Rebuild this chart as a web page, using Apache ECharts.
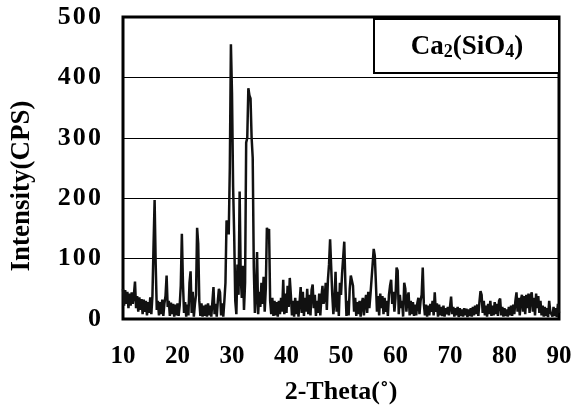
<!DOCTYPE html>
<html>
<head>
<meta charset="utf-8">
<script src="https://cdn.jsdelivr.net/npm/echarts@6/dist/echarts.min.js"></script>
<style>
  html, body { margin: 0; padding: 0; background: #fff; }
  #chart { width: 576px; height: 408px; }
</style>
</head>
<body>
<div id="chart"></div>
<script>
// 2θ sampling: start at 10°, one value every 0.2°
const startAngle = 10
const stepAngle = 0.2

// intensity (CPS)
const int10to20 = [50, 22, 48, 25, 45, 18, 42, 22, 44, 25, 40, 62, 18, 38, 12, 36, 15, 33, 8, 32,
  12, 30, 6, 28, 10, 36, 8, 38, 120, 197, 90, 15, 30, 6, 28, 8, 32, 5, 26, 38,
  72, 20, 30, 5, 27, 8, 25, 4, 24, 6]
const int20to30 = [26, 5, 22, 55, 141, 60, 10, 28, 4, 24, 6, 60, 79, 10, 45, 4, 25, 40, 151, 125,
  30, 5, 26, 4, 22, 5, 24, 4, 26, 6, 22, 4, 28, 53, 8, 25, 4, 30, 50, 44,
  6, 26, 4, 30, 60, 163, 158, 140, 250, 455]
const int30to40 = [374, 220, 140, 30, 8, 90, 40, 211, 70, 35, 88, 15, 60, 292, 300, 382, 370, 365, 300, 267,
  85, 10, 40, 111, 8, 45, 20, 60, 25, 70, 12, 50, 151, 145, 149, 30, 8, 35, 5, 30,
  6, 28, 4, 30, 8, 35, 12, 65, 8, 42]
const int40to50 = [10, 55, 20, 68, 40, 6, 30, 4, 35, 8, 30, 4, 28, 53, 10, 45, 5, 35, 12, 50,
  8, 40, 6, 48, 57, 18, 40, 5, 30, 10, 42, 6, 35, 55, 25, 35, 60, 15, 65, 90,
  132, 134, 40, 8, 30, 78, 12, 45, 5, 60]
const int50to60 = [40, 75, 72, 128, 60, 5, 30, 6, 50, 72, 75, 55, 12, 35, 5, 28, 8, 30, 4, 25,
  35, 6, 28, 40, 10, 45, 18, 40, 65, 90, 116, 105, 60, 12, 38, 6, 42, 18, 38, 8,
  35, 12, 30, 5, 40, 55, 65, 25, 45, 12]
const int60to70 = [35, 85, 80, 8, 40, 18, 30, 4, 60, 50, 12, 35, 44, 6, 30, 8, 28, 5, 24, 6,
  26, 35, 8, 30, 40, 85, 25, 6, 24, 4, 22, 6, 25, 12, 30, 6, 44, 12, 26, 4,
  24, 6, 20, 5, 22, 4, 18, 8, 20, 6]
const int70to80 = [20, 37, 8, 20, 4, 18, 6, 20, 3, 18, 5, 16, 4, 18, 6, 17, 3, 16, 5, 18,
  4, 20, 6, 22, 8, 24, 5, 28, 46, 40, 10, 30, 6, 22, 4, 25, 8, 30, 5, 22,
  6, 28, 8, 25, 5, 30, 34, 6, 20, 4]
const int80to90 = [18, 5, 16, 4, 20, 6, 22, 5, 24, 8, 30, 44, 12, 35, 6, 32, 40, 12, 38, 8,
  40, 18, 42, 10, 38, 44, 12, 35, 6, 42, 18, 38, 10, 30, 6, 22, 4, 20, 5, 18,
  3, 30, 12, 15, 4, 20, 5, 18, 3, 25, 10]

const intensity = [].concat(int10to20, int20to30, int30to40, int40to50,
  int50to60, int60to70, int70to80, int80to90)

const xTicks = [10, 20, 30, 40, 50, 60, 70, 80, 90]
const yTicks = [0, 100, 200, 300, 400, 500]

const seriesData = intensity.map((v, i) => [+(startAngle + i * stepAngle).toFixed(1), v])

const serif = '"Liberation Serif", "Times New Roman", serif'

const chart = echarts.init(document.getElementById('chart'), null, { renderer: 'canvas' })

const option = {
  backgroundColor: '#fff',
  animation: false,
  grid: {
    left: 123,
    right: 17,
    top: 17,
    bottom: 89,
    show: true,
    borderColor: '#000',
    borderWidth: 3,
    backgroundColor: 'transparent'
  },
  xAxis: {
    type: 'value',
    min: xTicks[0],
    max: xTicks[xTicks.length - 1],
    interval: 10,
    axisLine: { show: false },
    axisTick: { show: false },
    splitLine: { show: false },
    axisLabel: {
      color: '#000',
      fontFamily: serif,
      fontWeight: 'bold',
      fontSize: 25,
      margin: 25
    }
  },
  yAxis: {
    type: 'value',
    min: yTicks[0],
    max: yTicks[yTicks.length - 1],
    interval: 100,
    axisLine: { show: false },
    axisTick: { show: false },
    splitLine: { show: true, lineStyle: { color: '#000', width: 1 } },
    axisLabel: {
      color: '#000',
      fontFamily: serif,
      fontWeight: 'bold',
      fontSize: 26,
      margin: 22,
      formatter: v => String(v).split('').join('\u200a')
    }
  },
  series: [
    {
      name: 'Ca2(SiO4)',
      type: 'line',
      data: seriesData,
      symbol: 'none',
      lineStyle: { color: '#111', width: 2.5 },
      z: 3
    }
  ],
  graphic: [
    {
      type: 'rect',
      left: 373,
      top: 18,
      shape: { width: 185, height: 54 },
      style: { fill: '#fff', stroke: '#000', lineWidth: 2 },
      z: 10
    },
    {
      type: 'text',
      x: 467,
      y: 46,
      z: 11,
      style: {
        text: '{n|Ca}{s|2}{n|(SiO}{s|4}{n|)}',
        align: 'center',
        verticalAlign: 'middle',
        fill: '#000',
        rich: {
          n: { fontFamily: serif, fontWeight: 'bold', fontSize: 27, verticalAlign: 'bottom', lineHeight: 30 },
          s: { fontFamily: serif, fontWeight: 'bold', fontSize: 18, verticalAlign: 'bottom', lineHeight: 26 }
        }
      }
    },
    {
      type: 'text',
      x: 341,
      y: 392,
      style: {
        text: '2-Theta(˚)',
        align: 'center',
        verticalAlign: 'middle',
        fill: '#000',
        fontFamily: serif,
        fontWeight: 'bold',
        fontSize: 26
      }
    },
    {
      type: 'text',
      x: 22,
      y: 186,
      rotation: Math.PI / 2,
      style: {
        text: 'Intensity(CPS)',
        align: 'center',
        verticalAlign: 'middle',
        fill: '#000',
        fontFamily: serif,
        fontWeight: 'bold',
        fontSize: 27
      }
    }
  ]
}

chart.setOption(option)
window.addEventListener('resize', () => chart.resize())
</script>
</body>
</html>
